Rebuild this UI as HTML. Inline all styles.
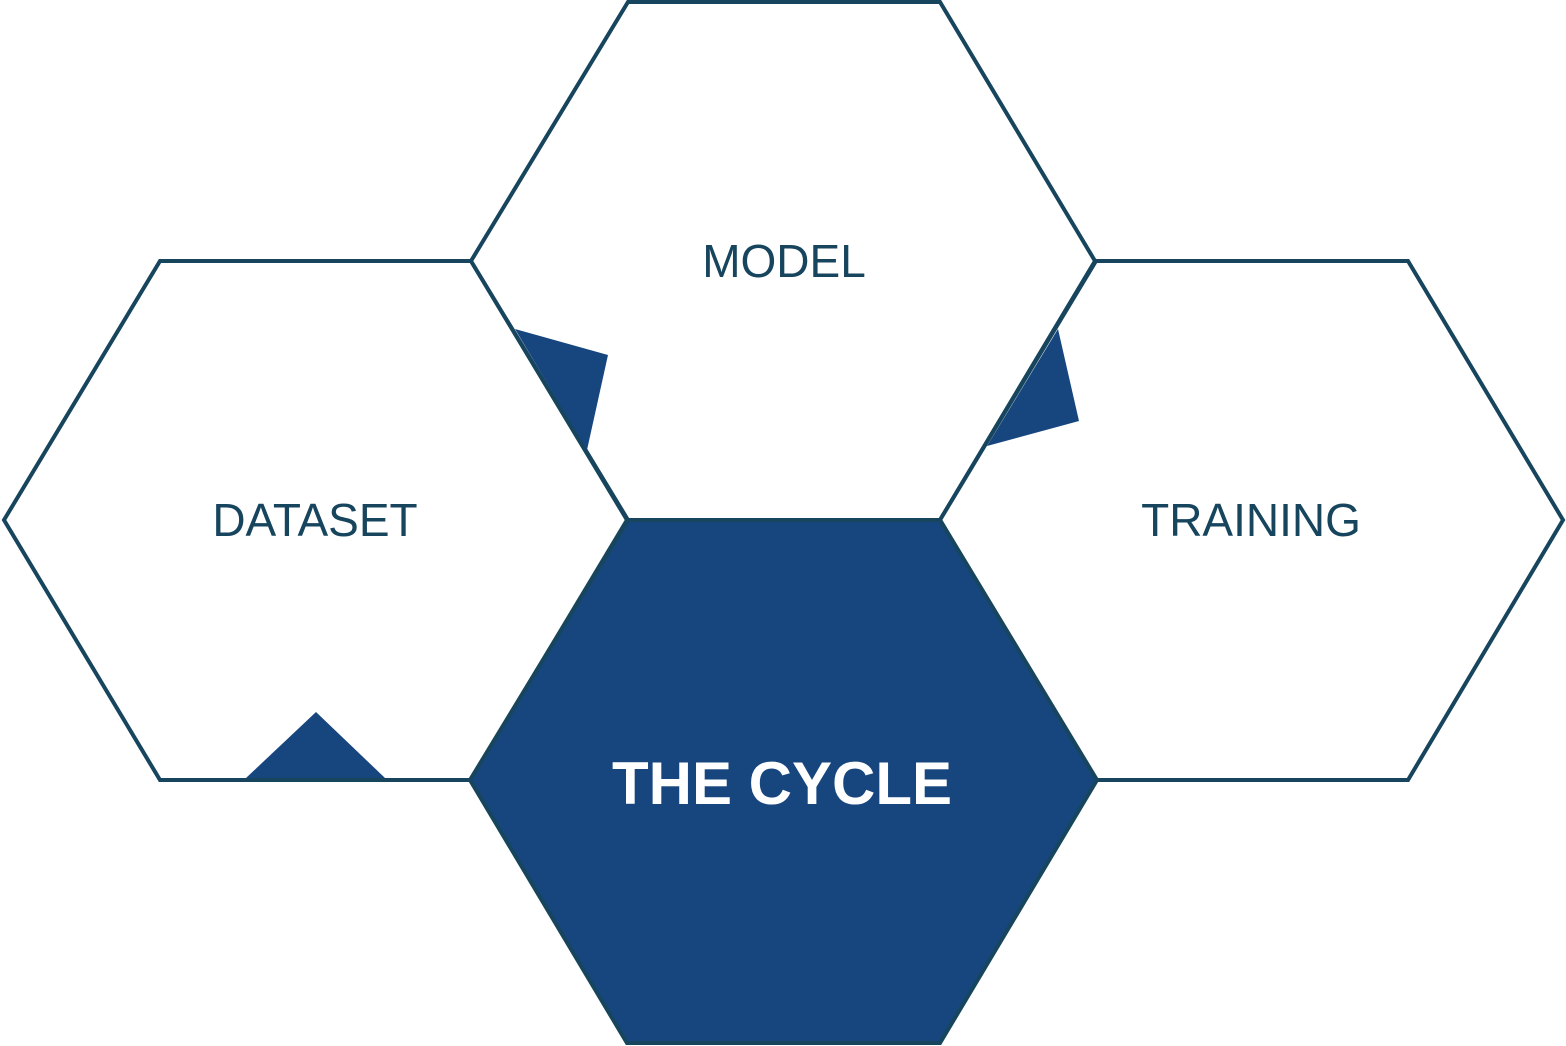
<!DOCTYPE html>
<html><head><style>html,body{margin:0;padding:0;background:#fff}svg{display:block}</style></head>
<body>
<svg width="1566" height="1046" viewBox="0 0 1566 1046" xmlns="http://www.w3.org/2000/svg">
<g fill="none" stroke="#17455e" stroke-width="4" stroke-linejoin="miter">
<polygon points="160,261 471,261 627,520 471,780 160,780 4,520" fill="#fff"/>
<polygon points="628,2 940,2 1095,261 940,520 628,520 471,261" fill="#fff"/>
<polygon points="1096,261 1408,261 1563,520 1408,780 1096,780 940,520" fill="#fff"/>
<polygon points="628,520 940,520 1097,780 940,1043 627,1043 470,780" fill="#17467f"/>
</g>
<g fill="#17467f">
<polygon points="515,329 608,355 587,450"/>
<polygon points="1058,329 1079,421 987,446"/>
<polygon points="246,778 316,712 385,778"/>
</g>
<g font-family="Liberation Sans, sans-serif" text-anchor="middle" fill="#17455e" font-size="46">
<text x="784" y="277">MODEL</text>
<text x="315" y="536">DATASET</text>
<text x="1251" y="536">TRAINING</text>
<text x="782" y="804" fill="#fff" font-weight="bold" font-size="60">THE CYCLE</text>
</g>
</svg>
</body></html>
